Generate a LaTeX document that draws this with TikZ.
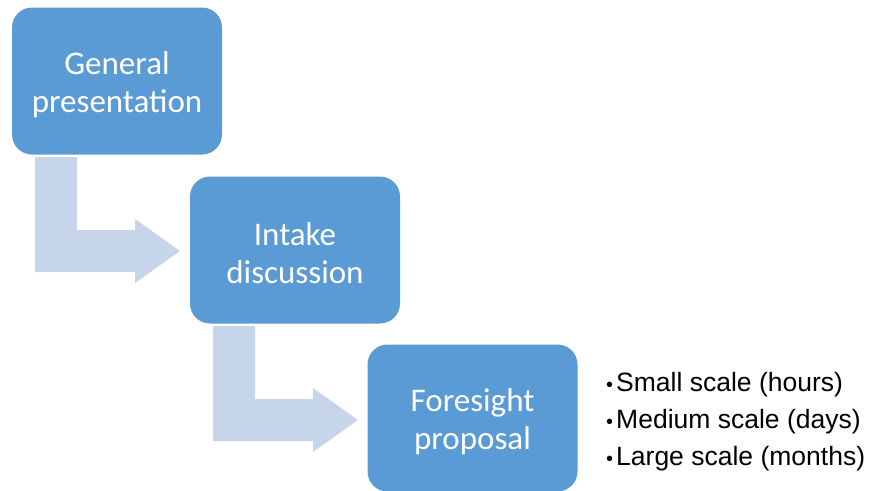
\documentclass[tikz,border=0pt]{standalone}
\usepackage{fontspec}
\setmainfont{Carlito}
\newfontfamily\arialfont{Liberation Sans}
\definecolor{boxblue}{HTML}{5B9BD5}
\definecolor{arrowblue}{HTML}{C6D5EA}
\tikzset{
  stage/.style={fill=boxblue, rounded corners=20pt, minimum width=210pt, minimum height=147pt,
    text=white, align=center, font=\fontsize{33}{38}\selectfont},
  bullet/.style={anchor=west, inner sep=0pt, font=\arialfont\fontsize{26.5}{30}\selectfont}
}
\begin{document}
\begin{tikzpicture}[x=1pt, y=-1pt]
    \useasboundingbox (0,0) rectangle (869,490);
    % Bent arrows between the stages
    \foreach \s in {0,1}
      \fill[arrowblue, shift={(178*\s,169*\s)}] (35,157) -- (77,157) -- (77,230) -- (135,230) -- (135,219)
        -- (180,251) -- (135,283) -- (135,272) -- (35,272) -- cycle;

    % Stages
    \node[stage] (general) at (117,81) {\rule{0pt}{30pt}General\\presentation};
    \node[stage] (intake) at (295,250) {\rule{0pt}{30pt}Intake\\discussion};
    \node[stage] (foresight) at (472.5,418) {\rule{0pt}{30pt}Foresight\\proposal};

    % Scales
    \node[bullet] (small) at (606,385) {{\fontsize{20}{20}\selectfont•}\kern3pt Small scale (hours)};
    \node[bullet] (medium) at (606,422) {{\fontsize{20}{20}\selectfont•}\kern3pt Medium scale (days)};
    \node[bullet] (large) at (606,459) {{\fontsize{20}{20}\selectfont•}\kern3pt Large scale (months)};
\end{tikzpicture}
\end{document}
